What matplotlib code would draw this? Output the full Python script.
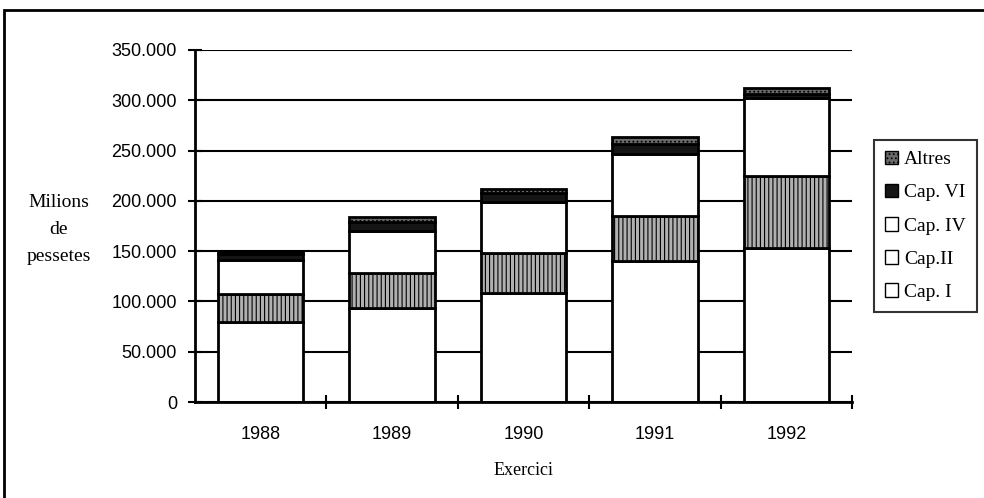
import matplotlib.pyplot as plt
import numpy as np
from matplotlib.patches import Patch, Rectangle

# milions de pessetes per exercici
years = ["1988", "1989", "1990", "1991", "1992"]
cap_i = [80000, 93000, 108000, 140000, 153000]
cap_ii = [27000, 35000, 40000, 45000, 72000]
cap_iv = [34000, 42000, 51000, 62000, 77000]
cap_vi = [6000, 9000, 9000, 10000, 4000]
altres = [2000, 5000, 4000, 6000, 6000]

series = [
    ("Cap. I", cap_i, "white", None),
    ("Cap.II", cap_ii, "#b0b0b0", "||||"),
    ("Cap. IV", cap_iv, "white", None),
    ("Cap. VI", cap_vi, "#151515", None),
    ("Altres", altres, "#6a6a6a", "...."),
]

plt.rcParams["hatch.linewidth"] = 0.8

fig = plt.figure(figsize=(9.84, 4.98), dpi=100)
ax = fig.add_axes([195 / 984, 96 / 498, 657 / 984, 352 / 498])

x = np.arange(len(years))
bottom = np.zeros(len(years))
for name, vals, color, hatch in series:
    ax.bar(x, vals, width=0.65, bottom=bottom, color=color, hatch=hatch,
           edgecolor="black", linewidth=2, zorder=3)
    bottom += np.array(vals)

ax.set_xlim(-0.5, len(years) - 0.5)
ax.set_ylim(0, 350000)
yt = np.arange(0, 350001, 50000)
ax.set_yticks(yt)
ax.set_yticklabels([f"{int(v):,}".replace(",", ".") for v in yt],
                   family="Liberation Sans", fontsize=13)
ax.set_xticks(x)
ax.set_xticklabels(years, family="Liberation Sans", fontsize=13)
ax.set_xticks(np.arange(0.5, len(years)), minor=True)
ax.tick_params(axis="x", which="major", length=0, pad=17)
ax.tick_params(axis="x", which="minor", direction="inout", length=10, width=1.5)
ax.tick_params(axis="y", direction="inout", length=10, width=1.5, pad=8)

ax.grid(axis="y", color="black", linewidth=1.5, zorder=1)
ax.set_axisbelow(True)
for s in ["top", "right"]:
    ax.spines[s].set_visible(False)
for s in ["left", "bottom"]:
    ax.spines[s].set_linewidth(2)
    ax.spines[s].set_zorder(4)

ax.set_ylabel("Milions\nde\npessetes", family="Liberation Serif", fontsize=14,
              rotation=0, ha="center", va="center", linespacing=1.75)
ax.yaxis.set_label_coords(-0.208, 0.49)
ax.set_xlabel("Exercici", family="Liberation Serif", fontsize=13)
ax.xaxis.set_label_coords(0.5, -0.17)

handles = [
    Patch(facecolor="#6a6a6a", edgecolor="black", hatch="....", label="Altres"),
    Patch(facecolor="#151515", edgecolor="black", label="Cap. VI"),
    Patch(facecolor="white", edgecolor="black", label="Cap. IV"),
    Patch(facecolor="white", edgecolor="black", label="Cap.II"),
    Patch(facecolor="white", edgecolor="black", label="Cap. I"),
]
leg = fig.legend(handles=handles, loc="upper left", bbox_to_anchor=(874 / 984, 1 - 140 / 498),
                 prop={"family": "Liberation Serif", "size": 14}, frameon=True, fancybox=False,
                 edgecolor="black", handlelength=0.7, handleheight=0.7, handletextpad=0.3,
                 labelspacing=0.8, borderpad=0.55, borderaxespad=0)
leg.get_frame().set_linewidth(1.5)

# outer frame of the scanned figure
fig.patches.append(Rectangle((4 / 984, -0.02), 1.02, (488 / 498) + 0.02,
                             transform=fig.transFigure, fill=False, edgecolor="black",
                             linewidth=2))

fig.savefig("out.png", dpi=100)
